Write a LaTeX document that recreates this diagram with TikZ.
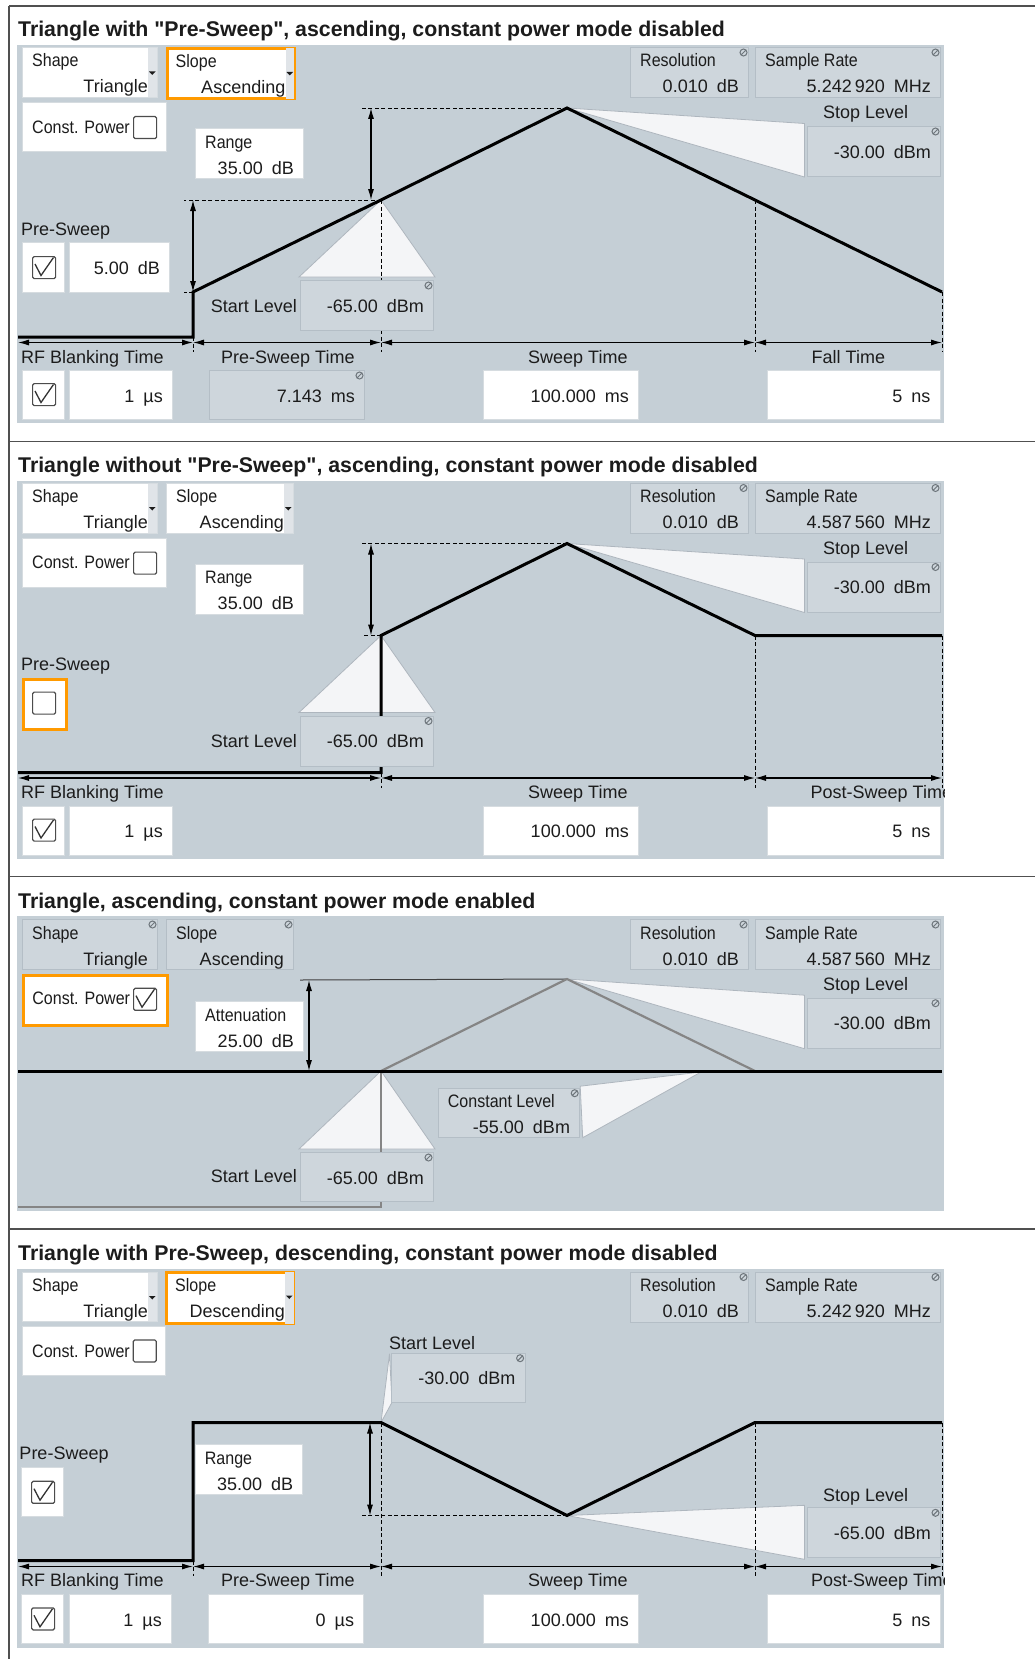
\documentclass[tikz,border=0pt]{standalone}
\usepackage{fontspec}
\setmainfont{Liberation Sans}
\newfontfamily\narrowfont[FakeStretch=0.89]{Liberation Sans}
\newfontfamily\titlefam{Liberation Sans}
\usetikzlibrary{arrows.meta,positioning}

\definecolor{panelbg}{HTML}{C5CFD6}
\definecolor{rofill}{HTML}{CED6DC}
\definecolor{roline}{HTML}{B4BEC6}
\definecolor{wline}{HTML}{D6DCE0}
\definecolor{callfill}{HTML}{F4F5F7}
\definecolor{callline}{HTML}{AEB6BE}
\definecolor{selorange}{HTML}{FF9A00}
\definecolor{stripgray}{HTML}{E0E4E8}
\definecolor{uitext}{HTML}{1C1C1C}
\definecolor{rulegray}{HTML}{505050}
\definecolor{ghostgray}{HTML}{858585}
\definecolor{icongray}{HTML}{6E767C}

\pgfdeclarelayer{paper}
\pgfdeclarelayer{sketch}
\pgfsetlayers{paper,sketch,main}

\newcommand\uifont{\fontsize{18}{22}\selectfont}
\newcommand\capfont{\narrowfont\fontsize{18}{22}\selectfont}
\newcommand\titlefont{\titlefam\fontsize{21.3}{26}\selectfont\bfseries}

\newcommand\uibox[5]{\node[#1,anchor=north west,minimum width=#4pt,minimum height=#5pt] (#2) at (#3) {};}
\newcommand\twoline[3]{%
  \node[captext] (#1-c) at ([shift={(10pt,-20pt)}]#1.north west) {#2};
  \node[val] (#1-v) at ([shift={(-10pt,-46pt)}]#1.north east) {#3};}
\newcommand\oneline[2]{\node[val] (#1-v) at ([shift={(-10pt,-32pt)}]#1.north east) {#2};}
\newcommand\lockmark[1]{\draw[lock] ([shift={(-5.5pt,-5.5pt)}]#1.north east) circle (3.5pt) ++(-2.3pt,-2.3pt) -- ++(4.6pt,4.6pt);}
\newcommand\dropstrip[1]{%
  \fill[stripgray] ([shift={(-10pt,-1pt)}]#1.north east) rectangle ([shift={(-1.5pt,1pt)}]#1.south east);
  \fill[uitext] ([shift={(-9pt,-24.5pt)}]#1.north east) -- ++(6.5pt,0pt) -- ++(-3.25pt,-3.5pt) -- cycle;}
\newcommand\chkmark[3]{%
  \node[chk,anchor=north west] (#1) at (#2) {};
  \ifnum#3=1 \draw[tickmark] ([shift={(3pt,-8pt)}]#1.north west) -- ([shift={(9pt,-19.5pt)}]#1.north west) -- ([shift={(21.5pt,-1.5pt)}]#1.north west);\fi}

\begin{document}
\begin{tikzpicture}[x=1pt,y=-1pt,
  >={Latex[length=11pt,width=6pt]},
  panel/.style={fill=panelbg},
  wfield/.style={draw=wline,fill=white,line width=1pt,inner sep=0pt},
  rofield/.style={draw=roline,fill=rofill,line width=1pt,inner sep=0pt},
  selfield/.style={draw=selorange,fill=white,line width=3pt,inner sep=0pt},
  captext/.style={font=\capfont,text=uitext,inner sep=0pt,anchor=base west},
  val/.style={font=\uifont,text=uitext,inner sep=0pt,anchor=base east},
  lbl/.style={font=\uifont,text=uitext,inner sep=0pt,anchor=base west},
  heading/.style={font=\titlefont,text=uitext,inner sep=0pt,anchor=base west},
  chk/.style={draw=black!70,fill=white,line width=1.2pt,rounded corners=1.5pt,minimum width=23pt,minimum height=22pt,inner sep=0pt},
  tickmark/.style={line width=1.3pt,black!80},
  lock/.style={draw=icongray,line width=1pt},
  wave/.style={line width=3pt,black},
  ghost/.style={line width=2.2pt,ghostgray},
  refline/.style={line width=1pt,black!75},
  guide/.style={line width=0.9pt,dash pattern=on 4pt off 2.5pt},
  dimline/.style={line width=1.1pt,<->},
  calloutfill/.style={fill=callfill,draw=callline,line width=0.8pt},
  tablerule/.style={line width=1.5pt,rulegray}]

  \useasboundingbox (0,0) rectangle (1035,1659);
  \begin{pgfonlayer}{paper}
    \fill[white] (0,0) rectangle (1035,1659);
  \end{pgfonlayer}

  \draw[tablerule] (9,6) -- (1035,6);
  \draw[tablerule] (9,441.5) -- (1035,441.5);
  \draw[tablerule] (9,876.5) -- (1035,876.5);
  \draw[tablerule] (9,1229) -- (1035,1229);
  \draw[tablerule] (9,6) -- (9,1659);

  \begin{scope}
    \node[heading] (title1) at (18,37) {Triangle with "Pre-Sweep", ascending, constant power mode disabled};
    \uibox{wfield}{shape1}{22,47}{135}{50}\dropstrip{shape1}\twoline{shape1}{Shape}{Triangle}
    \uibox{selfield}{slope1}{165.5,47.5}{127}{50}\dropstrip{slope1}\twoline{slope1}{Slope}{Ascending}
    \uibox{wfield}{cpow1}{22,102}{144}{49}
    \node[captext] (cpow1-c) at ([shift={(10pt,-31pt)}]cpow1.north west) {Const. Power};
    \chkmark{cbox1}{133,116}{0}
    \uibox{wfield}{range1}{195,128}{108}{50}\twoline{range1}{Range}{35.00\enspace dB}
    \node[lbl] (pre1) at (21,235) {Pre-Sweep};
    \uibox{wfield}{pcell1}{22,242}{42}{50}\chkmark{pchk1}{32,256}{1}
    \uibox{wfield}{pval1}{69,242}{100}{50}\oneline{pval1}{5.00\enspace dB}
    \uibox{rofield}{start1}{300,280}{133}{50}\oneline{start1}{-65.00\enspace dBm}\lockmark{start1}
    \node[lbl,anchor=base east] (startl1) at (297,312) {Start Level};
    \uibox{rofield}{res1}{630,47}{118}{50}\twoline{res1}{Resolution}{0.010\enspace dB}\lockmark{res1}
    \uibox{rofield}{rate1}{755,47}{185}{50}\twoline{rate1}{Sample Rate}{5.242\,920\enspace MHz}\lockmark{rate1}
    \node[lbl] (stopl1) at (823,119) {Stop Level};
    \uibox{rofield}{stop1}{807,126}{133}{50}\oneline{stop1}{-30.00\enspace dBm}\lockmark{stop1}
    \node[lbl] (rfbl1) at (21,363) {RF Blanking Time};
    \node[lbl] (pstl1) at (221,363) {Pre-Sweep Time};
    \node[lbl] (swtl1) at (528,363) {Sweep Time};
    \node[lbl] (fall1) at (811.5,363) {Fall Time};
    \uibox{wfield}{rcell1}{22,370}{42}{49}\chkmark{rchk1}{32,383}{1}
    \uibox{wfield}{rval1}{69,370}{103}{49}\oneline{rval1}{1\enspace µs}
    \uibox{rofield}{pst1}{209,370}{155}{49}\oneline{pst1}{7.143\enspace ms}\lockmark{pst1}
    \uibox{wfield}{swt1}{483,370}{155}{49}\oneline{swt1}{100.000\enspace ms}
    \uibox{wfield}{fallv1}{767,370}{172.5}{49}\oneline{fallv1}{5\enspace ns}
    \begin{pgfonlayer}{paper}
      \fill[panel] (17,45) rectangle (944,423);
    \end{pgfonlayer}
    \begin{pgfonlayer}{sketch}
      \coordinate (b1) at (18,337);
      \coordinate (e1) at (193,337);
      \coordinate (ps1) at (193,292);
      \coordinate (sl1) at (381,200);
      \coordinate (pk1) at (567,108);
      \coordinate (sw1) at (755,200);
      \coordinate (fe1) at (942,292);
      \draw[calloutfill] (sl1) -- ([shift={(-1pt,3pt)}]start1.north west) -- ([shift={(1pt,3pt)}]start1.north east) -- cycle;
      \draw[calloutfill] (pk1) -- ([shift={(-2.5pt,2.5pt)}]stop1.north west) -- ([xshift=-2.5pt]stop1.south west) -- cycle;
      \draw[guide] (pk1) -- ++(-205,0);
      \draw[guide] (sl1) -- ++(-197,0);
      \draw[guide] (ps1) -- ++(-9,0);
      \draw[guide] (sl1) -- ++(0,152);
      \draw[guide] (sw1) -- ++(0,152);
      \draw[guide] (fe1) -- ++(0,60);
      \draw[guide] (e1) -- ++(0,15);
      \draw[wave] (b1) -- (e1) -- (ps1) -- (sl1) -- (pk1) -- (sw1) -- (fe1);
      \draw[dimline] (371,108) -- (371,200);
      \draw[dimline] (193,200) -- (193,292);
      \draw[dimline] (18,342.5) -- (193,342.5);
      \draw[dimline] (193,342.5) -- (381,342.5);
      \draw[dimline] (381,342.5) -- (755,342.5);
      \draw[dimline] (755,342.5) -- (942,342.5);
    \end{pgfonlayer}
  \end{scope}

  \begin{scope}[shift={(0,435.5)}]
    \node[heading] (title2) at (18,37) {Triangle without "Pre-Sweep", ascending, constant power mode disabled};
    \uibox{wfield}{shape2}{22,47}{135}{50}\dropstrip{shape2}\twoline{shape2}{Shape}{Triangle}
    \uibox{wfield}{slope2}{166,47}{127}{50}\dropstrip{slope2}\twoline{slope2}{Slope}{Ascending}
    \uibox{wfield}{cpow2}{22,102}{144}{49}
    \node[captext] (cpow2-c) at ([shift={(10pt,-31pt)}]cpow2.north west) {Const. Power};
    \chkmark{cbox2}{133,116}{0}
    \uibox{wfield}{range2}{195,128}{108}{50}\twoline{range2}{Range}{35.00\enspace dB}
    \node[lbl] (pre2) at (21,235) {Pre-Sweep};
    \uibox{selfield}{pcell2}{22.2,242}{43}{50.5}\chkmark{pchk2}{32,256}{0}
    \uibox{rofield}{start2}{300,280}{133}{50}\oneline{start2}{-65.00\enspace dBm}\lockmark{start2}
    \node[lbl,anchor=base east] (startl2) at (297,312) {Start Level};
    \uibox{rofield}{res2}{630,47}{118}{50}\twoline{res2}{Resolution}{0.010\enspace dB}\lockmark{res2}
    \uibox{rofield}{rate2}{755,47}{185}{50}\twoline{rate2}{Sample Rate}{4.587\,560\enspace MHz}\lockmark{rate2}
    \node[lbl] (stopl2) at (823,119) {Stop Level};
    \uibox{rofield}{stop2}{807,126}{133}{50}\oneline{stop2}{-30.00\enspace dBm}\lockmark{stop2}
    \node[lbl] (rfbl2) at (21,363) {RF Blanking Time};
    \node[lbl] (swtl2) at (528,363) {Sweep Time};
    \begin{scope}
      \clip (17,340) rectangle (944,372);
      \node[lbl] (postl2) at (810.5,363) {Post-Sweep Time};
    \end{scope}
    \uibox{wfield}{rcell2}{22,370}{42}{49}\chkmark{rchk2}{32,383}{1}
    \uibox{wfield}{rval2}{69,370}{103}{49}\oneline{rval2}{1\enspace µs}
    \uibox{wfield}{swt2}{483,370}{155}{49}\oneline{swt2}{100.000\enspace ms}
    \uibox{wfield}{postv2}{767,370}{172.5}{49}\oneline{postv2}{5\enspace ns}
    \begin{pgfonlayer}{paper}
      \fill[panel] (17,45) rectangle (944,423);
    \end{pgfonlayer}
    \begin{pgfonlayer}{sketch}
      \coordinate (b2) at (18,337);
      \coordinate (e2) at (381,337);
      \coordinate (sl2) at (381,200);
      \coordinate (pk2) at (567,108);
      \coordinate (sw2) at (755,200);
      \coordinate (pe2) at (942,200);
      \draw[calloutfill] (sl2) -- ([shift={(-1pt,3pt)}]start2.north west) -- ([shift={(1pt,3pt)}]start2.north east) -- cycle;
      \draw[calloutfill] (pk2) -- ([shift={(-2.5pt,2.5pt)}]stop2.north west) -- ([xshift=-2.5pt]stop2.south west) -- cycle;
      \draw[guide] (pk2) -- ++(-205,0);
      \draw[guide] (sl2) -- ++(-19,0);
      \draw[guide] (sw2) -- ++(0,152);
      \draw[guide] (pe2) -- ++(0,152);
      \draw[guide] (e2) -- ++(0,15);
      \draw[wave] (b2) -- (e2) -- (sl2) -- (pk2) -- (sw2) -- (pe2);
      \draw[dimline] (371,108) -- (371,200);
      \draw[dimline] (18,342.5) -- (381,342.5);
      \draw[dimline] (381,342.5) -- (755,342.5);
      \draw[dimline] (755,342.5) -- (942,342.5);
    \end{pgfonlayer}
  \end{scope}

  \begin{scope}[shift={(0,871)}]
    \node[heading] (title3) at (18,37) {Triangle, ascending, constant power mode enabled};
    \uibox{rofield}{shape3}{22,48}{135}{50}\twoline{shape3}{Shape}{Triangle}\lockmark{shape3}
    \uibox{rofield}{slope3}{166,48}{127}{50}\twoline{slope3}{Slope}{Ascending}\lockmark{slope3}
    \uibox{selfield}{cpow3}{22.2,102.8}{144}{49.7}
    \node[captext] (cpow3-c) at ([shift={(10pt,-31pt)}]cpow3.north west) {Const. Power};
    \chkmark{cbox3}{133,116.7}{1}
    \uibox{wfield}{att3}{195,130}{108}{50}\twoline{att3}{Attenuation}{25.00\enspace dB}
    \uibox{rofield}{start3}{300,281}{133}{49}\oneline{start3}{-65.00\enspace dBm}\lockmark{start3}
    \node[lbl,anchor=base east] (startl3) at (297,311) {Start Level};
    \uibox{rofield}{const3}{437.7,216.7}{141.5}{49}\twoline{const3}{Constant Level}{-55.00\enspace dBm}\lockmark{const3}
    \uibox{rofield}{res3}{630,48}{118}{50}\twoline{res3}{Resolution}{0.010\enspace dB}\lockmark{res3}
    \uibox{rofield}{rate3}{755,48}{185}{50}\twoline{rate3}{Sample Rate}{4.587\,560\enspace MHz}\lockmark{rate3}
    \node[lbl] (stopl3) at (823,119) {Stop Level};
    \uibox{rofield}{stop3}{807,126.7}{133}{50}\oneline{stop3}{-30.00\enspace dBm}\lockmark{stop3}
    \begin{pgfonlayer}{paper}
      \fill[panel] (17,45) rectangle (944,340);
    \end{pgfonlayer}
    \begin{pgfonlayer}{sketch}
      \coordinate (sl3) at (381,200);
      \coordinate (pk3) at (567,108);
      \coordinate (sw3) at (755,200);
      \coordinate (c3) at (701,201);
      \draw[calloutfill] (sl3) -- ([shift={(-1pt,3pt)}]start3.north west) -- ([shift={(1pt,3pt)}]start3.north east) -- cycle;
      \draw[calloutfill] (pk3) -- ([shift={(-2.5pt,2.5pt)}]stop3.north west) -- ([xshift=-2.5pt]stop3.south west) -- cycle;
      \draw[calloutfill] ([yshift=1.5pt]const3.north east) -- (c3) -- ([xshift=2.5pt]const3.south east) -- cycle;
      \draw[refline] (300,109) -- (pk3);
      \draw[dimline] (309,109) -- (309,200);
      \draw[ghost] (sl3) -- (pk3) -- (sw3);
      \draw[ghost] (18,336) -- (381,336) -- (sl3);
      \draw[wave] (18,200) -- (942,200);
    \end{pgfonlayer}
  \end{scope}

  \begin{scope}[shift={(0,1223.5)}]
    \node[heading] (title4) at (18,37) {Triangle with Pre-Sweep, descending, constant power mode disabled};
    \uibox{wfield}{shape4}{22,48}{135}{49.5}\dropstrip{shape4}\twoline{shape4}{Shape}{Triangle}
    \uibox{selfield}{slope4}{165,47.5}{127}{50.5}\dropstrip{slope4}\twoline{slope4}{Slope}{Descending}
    \uibox{wfield}{cpow4}{22,102.5}{143}{49.3}
    \node[captext] (cpow4-c) at ([shift={(10pt,-31pt)}]cpow4.north west) {Const. Power};
    \chkmark{cbox4}{132.7,115.8}{0}
    \node[lbl] (startl4) at (389,126) {Start Level};
    \uibox{rofield}{start4}{391,129.2}{133.6}{49.6}\oneline{start4}{-30.00\enspace dBm}\lockmark{start4}
    \node[lbl] (pre4) at (19.3,235.8) {Pre-Sweep};
    \uibox{wfield}{pcell4}{21.3,243.2}{42}{49.3}\chkmark{pchk4}{31,257.2}{1}
    \uibox{wfield}{range4}{194.7,220.8}{107.6}{50}\twoline{range4}{Range}{35.00\enspace dB}
    \uibox{rofield}{res4}{630,48}{118}{50}\twoline{res4}{Resolution}{0.010\enspace dB}\lockmark{res4}
    \uibox{rofield}{rate4}{755,48}{185}{50}\twoline{rate4}{Sample Rate}{5.242\,920\enspace MHz}\lockmark{rate4}
    \node[lbl] (stopl4) at (823,278) {Stop Level};
    \uibox{rofield}{stop4}{806.5,283.8}{133.5}{50}\oneline{stop4}{-65.00\enspace dBm}\lockmark{stop4}
    \node[lbl] (rfbl4) at (21,363.2) {RF Blanking Time};
    \node[lbl] (pstl4) at (221,363.2) {Pre-Sweep Time};
    \node[lbl] (swtl4) at (528,363.2) {Sweep Time};
    \begin{scope}
      \clip (17,340) rectangle (944,372);
      \node[lbl] (postl4) at (811,363.2) {Post-Sweep Time};
    \end{scope}
    \uibox{wfield}{rcell4}{21.3,370.5}{42}{49.3}\chkmark{rchk4}{31,383.8}{1}
    \uibox{wfield}{rval4}{69,370.5}{102}{49.3}\oneline{rval4}{1\enspace µs}
    \uibox{wfield}{pst4}{208.3,370.5}{155}{49.3}\oneline{pst4}{0\enspace µs}
    \uibox{wfield}{swt4}{483,370.5}{155}{49.3}\oneline{swt4}{100.000\enspace ms}
    \uibox{wfield}{postv4}{767,370.5}{172.5}{49.3}\oneline{postv4}{5\enspace ns}
    \begin{pgfonlayer}{paper}
      \fill[panel] (17,45) rectangle (944,424);
    \end{pgfonlayer}
    \begin{pgfonlayer}{sketch}
      \coordinate (b4) at (18,337);
      \coordinate (e4) at (193,337);
      \coordinate (ps4) at (193,199);
      \coordinate (sl4) at (381,199);
      \coordinate (lo4) at (567,292);
      \coordinate (sw4) at (755,199);
      \coordinate (pe4) at (942,199);
      \draw[calloutfill] (sl4) -- ([shift={(-1.5pt,-1pt)}]start4.north west) -- ([shift={(1pt,1pt)}]start4.south west) -- cycle;
      \draw[calloutfill] (lo4) -- ([shift={(-2pt,2pt)}]stop4.north west) -- ([shift={(-2pt,-1pt)}]stop4.south west) -- cycle;
      \draw[guide] (lo4) -- ++(-206,0);
      \draw[guide] (sl4) -- ++(0,153);
      \draw[guide] (sw4) -- ++(0,153);
      \draw[guide] (pe4) -- ++(0,153);
      \draw[guide] (e4) -- ++(0,15);
      \draw[wave] (b4) -- (e4) -- (ps4) -- (sl4) -- (lo4) -- (sw4) -- (pe4);
      \draw[dimline] (370,199) -- (370,292);
      \draw[dimline] (18,343) -- (193,343);
      \draw[dimline] (193,343) -- (381,343);
      \draw[dimline] (381,343) -- (755,343);
      \draw[dimline] (755,343) -- (942,343);
    \end{pgfonlayer}
  \end{scope}
\end{tikzpicture}
\end{document}
